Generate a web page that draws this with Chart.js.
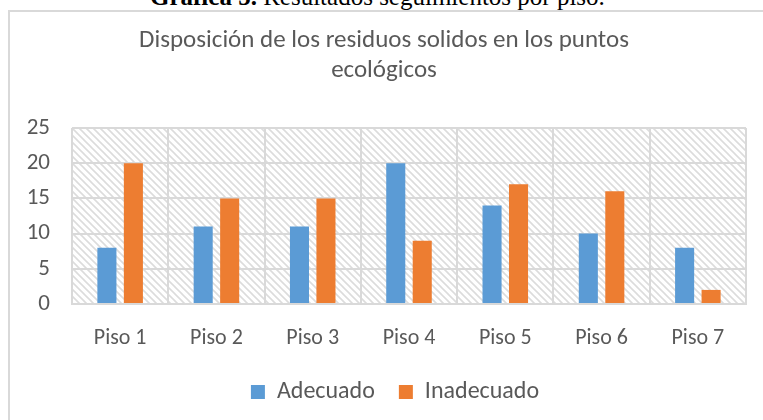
<!DOCTYPE html>
<html>
<head>
<meta charset="utf-8">
<script src="https://cdn.jsdelivr.net/npm/chart.js@4.4.0/dist/chart.umd.min.js"></script>
<style>
  html, body { margin: 0; padding: 0; background: #fff; overflow: hidden; }
  #wrap { position: relative; width: 763px; height: 420px; }
  #caption {
    position: absolute; left: 150px; top: -16px; white-space: nowrap;
    font-family: 'Liberation Serif', 'Times New Roman', serif; font-size: 25px; line-height: 25px; color: #000;
  }
  #box {
    position: absolute; left: 8px; top: 10px; width: 800px; height: 500px;
    border: 2px solid #d9d9d9; box-sizing: border-box;
  }
  #chart { position: absolute; left: 0; top: 0; }
</style>
</head>
<body>
<div id="wrap">
  <div id="caption"><b>Gráfica 5.</b> Resultados seguimientos por piso.</div>
  <div id="box"></div>
  <canvas id="chart" width="763" height="420"></canvas>
</div>
<script>
const pisos = ['Piso 1', 'Piso 2', 'Piso 3', 'Piso 4', 'Piso 5', 'Piso 6', 'Piso 7'];
const adecuado = [8, 11, 11, 20, 14, 10, 8];
const inadecuado = [20, 15, 15, 9, 17, 16, 2];
const yTicks = [0, 5, 10, 15, 20, 25];

const BLUE = '#5b9bd5';
const ORANGE = '#ed7d31';
const GRID = '#d9d9d9';
const TEXT = '#595959';
const FONT = "Carlito, Calibri, Lato, sans-serif";

// light "wide downward diagonal" hatch for the plot area
function makeHatch() {
  const c = document.createElement('canvas');
  c.width = 7; c.height = 7;
  const g = c.getContext('2d');
  g.strokeStyle = '#dcdcdc';
  g.lineWidth = 1.6;
  g.beginPath();
  g.moveTo(-1, -1); g.lineTo(8, 8);
  g.moveTo(-8, -1); g.lineTo(1, 8);
  g.moveTo(6, -1); g.lineTo(15, 8);
  g.stroke();
  return g.createPattern(c, 'repeat');
}

const hatchPlugin = {
  id: 'hatch',
  afterLayout(chart) {
    // the title and legend sit a bit right of the plot centre in the original
    const shift = (box, dx) => { box.left += dx; box.right += dx; };
    shift(chart.titleBlock, 7);
    shift(chart.legend, 18);
  },
  beforeDraw(chart) {
    const { ctx, chartArea: a } = chart;
    ctx.save();
    ctx.fillStyle = makeHatch();
    ctx.fillRect(a.left, a.top, a.right - a.left, a.bottom - a.top);
    ctx.restore();
  }
};

new Chart(document.getElementById('chart'), {
  type: 'bar',
  data: {
    labels: pisos,
    datasets: [
      { label: 'Adecuado', data: adecuado, backgroundColor: BLUE },
      { label: 'Inadecuado', data: inadecuado, backgroundColor: ORANGE }
    ]
  },
  options: {
    responsive: false,
    animation: false,
    categoryPercentage: 0.55,
    barPercentage: 0.72,
    layout: { padding: { left: 8, right: 17, top: 10, bottom: 6 } },
    plugins: {
      title: {
        display: true,
        text: ['Disposición de los residuos solidos en los puntos', 'ecológicos'],
        color: TEXT,
        font: { family: FONT, size: 25, weight: 'normal', lineHeight: 1.2 },
        padding: { top: 16, bottom: 42 }
      },
      legend: {
        position: 'bottom',
        labels: {
          color: TEXT,
          font: { family: FONT, size: 24 },
          boxWidth: 14,
          boxHeight: 14,
          padding: 24
        }
      },
      tooltip: { enabled: false }
    },
    scales: {
      x: {
        grid: { color: GRID, lineWidth: 2, offset: true, drawTicks: false },
        border: { color: GRID, width: 2 },
        ticks: { color: TEXT, font: { family: FONT, size: 22 }, padding: 21 },
        afterFit(s) { s.height = 52; }
      },
      y: {
        min: 0,
        max: 25,
        afterBuildTicks(s) { s.ticks = yTicks.map(v => ({ value: v })); },
        grid: { color: GRID, lineWidth: 2, drawTicks: false },
        border: { display: false },
        ticks: { color: TEXT, font: { family: FONT, size: 23 }, padding: 22 },
        afterFit(s) { s.width = 64; }
      }
    }
  },
  plugins: [hatchPlugin]
});
</script>
</body>
</html>
